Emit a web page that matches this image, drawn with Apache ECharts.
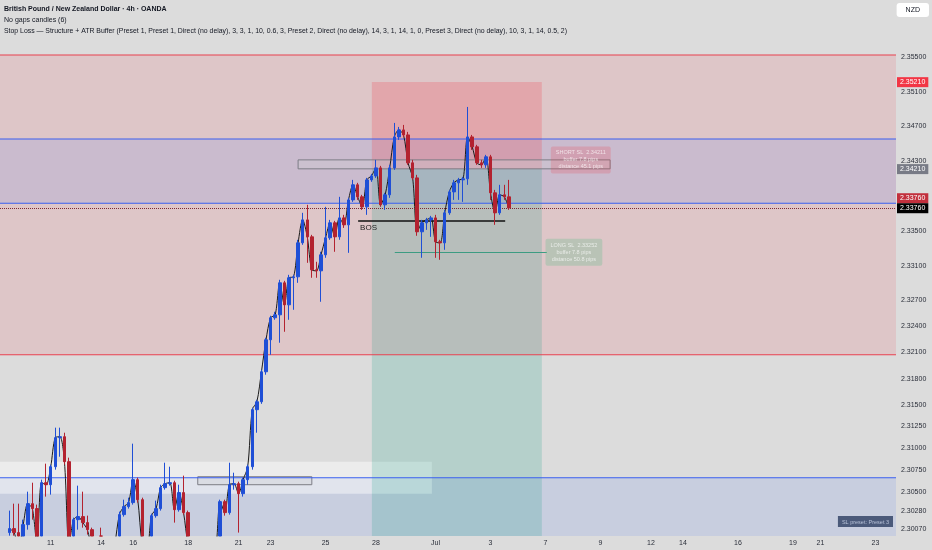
<!DOCTYPE html>
<html><head><meta charset="utf-8">
<script src="https://cdn.jsdelivr.net/npm/echarts@6/dist/echarts.min.js"></script>
<style>html,body{margin:0;padding:0;background:#dcdcdc}#c{width:932px;height:550px}</style>
</head><body><div id="c"></div>
<script>
// ---------- DATA ----------
const opens = [2.30029,2.30075,2.30029,2.29856,2.30121,2.30362,2.30305,2.29891,2.30603,2.30580,
2.30787,2.31121,2.31132,2.30845,2.29891,2.30178,2.30213,2.30144,2.30063,2.29833,
2.29718,2.29776,2.29661,2.29603,2.29891,2.30236,2.30328,2.30374,2.30638,2.30408,
2.29891,2.29833,2.30224,2.30305,2.30546,2.30592,2.30603,2.30293,2.30489,2.30259,
2.29891,2.29776,2.29718,2.29810,2.29695,2.29764,2.29833,2.30385,2.30259,2.30580,
2.30592,2.30477,2.30638,2.30787,2.31443,2.31534,2.31879,2.32247,2.32500,2.32534,
2.32902,2.32649,2.32960,2.32971,2.33362,2.33626,2.33431,2.33052,2.33040,2.33224,
2.33420,2.33592,2.33431,2.33649,2.33569,2.33856,2.34029,2.33891,2.33776,2.34086,
2.34132,2.34224,2.33799,2.33914,2.34224,2.34580,2.34661,2.34603,2.34282,2.34109,
2.33489,2.33592,2.33626,2.33649,2.33374,2.33362,2.33707,2.33948,2.34052,2.34086,
2.34098,2.34580,2.34466,2.34282,2.34259,2.34351,2.33937,2.33707,2.33914,2.33891];
const closes = [2.30075,2.30029,2.29856,2.30121,2.30362,2.30305,2.29891,2.30603,2.30580,2.30787,
2.31121,2.31132,2.30845,2.29891,2.30178,2.30213,2.30144,2.30063,2.29833,2.29718,
2.29776,2.29661,2.29603,2.29891,2.30236,2.30328,2.30374,2.30638,2.30408,2.29891,
2.29833,2.30224,2.30305,2.30546,2.30592,2.30603,2.30293,2.30489,2.30259,2.29891,
2.29776,2.29718,2.29810,2.29695,2.29764,2.29833,2.30385,2.30259,2.30580,2.30592,
2.30477,2.30638,2.30787,2.31443,2.31534,2.31879,2.32247,2.32500,2.32534,2.32902,
2.32649,2.32960,2.32971,2.33362,2.33626,2.33431,2.33052,2.33040,2.33224,2.33420,
2.33592,2.33431,2.33649,2.33569,2.33856,2.34029,2.33891,2.33776,2.34086,2.34132,
2.34224,2.33799,2.33914,2.34224,2.34580,2.34661,2.34603,2.34282,2.34109,2.33489,
2.33592,2.33626,2.33649,2.33374,2.33362,2.33707,2.33948,2.34052,2.34086,2.34098,
2.34580,2.34466,2.34282,2.34259,2.34351,2.33937,2.33707,2.33914,2.33891,2.33764];
const lows = [2.29994,2.29994,2.29810,2.29833,2.30063,2.30178,2.29833,2.29856,2.30443,2.30466,
2.30753,2.30902,2.30810,2.29833,2.29856,2.30063,2.30086,2.30006,2.29776,2.29661,
2.29661,2.29603,2.29488,2.29546,2.29856,2.30213,2.30305,2.30351,2.30374,2.29833,
2.29718,2.29810,2.30201,2.30282,2.30523,2.30569,2.30144,2.30270,2.30236,2.29833,
2.29661,2.29603,2.29661,2.29603,2.29626,2.29718,2.29776,2.30224,2.30236,2.30523,
2.30029,2.30443,2.30580,2.30753,2.31178,2.31510,2.31845,2.32075,2.32477,2.32213,
2.32339,2.32477,2.32592,2.32902,2.33339,2.33132,2.32960,2.32960,2.32684,2.33190,
2.33397,2.33259,2.33397,2.33534,2.33247,2.33833,2.33856,2.33741,2.33684,2.34063,
2.34109,2.33776,2.33741,2.33879,2.34201,2.34546,2.34580,2.34259,2.34086,2.33443,
2.33190,2.33511,2.33431,2.33190,2.33167,2.33282,2.33684,2.33856,2.33856,2.33833,
2.34029,2.34431,2.34259,2.34224,2.34224,2.33856,2.33569,2.33684,2.33856,2.33741];
const highs = [2.30282,2.30362,2.30362,2.30178,2.30500,2.30603,2.30351,2.30638,2.30822,2.30810,
2.31236,2.31236,2.31178,2.30891,2.30201,2.30569,2.30500,2.30224,2.30086,2.29891,
2.30086,2.29833,2.29776,2.29948,2.30270,2.30408,2.30431,2.31052,2.30661,2.30431,
2.29948,2.30247,2.30397,2.30580,2.30833,2.30787,2.30626,2.30580,2.30684,2.30282,
2.29925,2.29856,2.29948,2.29891,2.29983,2.29948,2.30408,2.30408,2.30833,2.30718,
2.30615,2.30661,2.30810,2.31466,2.31557,2.31902,2.32270,2.32523,2.32569,2.32937,
2.32925,2.32994,2.32994,2.33397,2.33707,2.33799,2.33454,2.33144,2.33259,2.33776,
2.33626,2.33615,2.33891,2.33684,2.33879,2.34086,2.34052,2.33914,2.34109,2.34155,
2.34316,2.34247,2.33937,2.34259,2.34741,2.34695,2.34718,2.34638,2.34316,2.34144,
2.33626,2.33649,2.33672,2.33684,2.33397,2.33741,2.33971,2.34086,2.34109,2.34121,
2.34925,2.34603,2.34489,2.34316,2.34374,2.34374,2.33971,2.34029,2.34029,2.34086];

const tickLabels = ['11','14','16','18','21','23','25','28','Jul','3','7','9','12','14','16','19','21','23'];
const tickSlots  = [11,22,29,41,52,59,71,82,95,107,119,131,142,149,161,173,179,191];
const priceTicks = [2.355,2.351,2.347,2.343,2.335,2.331,2.327,2.324,2.321,2.318,2.315,2.3125,2.31,2.3075,2.305,2.3028,2.3007];
const tagValues  = [2.3521, 2.3421, 2.3376, 2.3376];
const tagTexts   = ['2.35210','2.34210','2.33760','2.33760'];

// drawing-tool levels (price) and spans (bar-slot units)
const redZone   = [2.35523, 2.32075];
const blueBand  = [2.34557, 2.33816];
const lowerZoneTop = 2.30661;
const whiteBox  = [0, 94.7, 2.30845, 2.30477];
const grayRects = [[65.5, 133.6, 2.34316, 2.34213], [43.6, 68.5, 2.30672, 2.30580]];
const posTool   = [81.6, 118.7, 2.35213, 2.34210];
const bosLine   = [78.6, 110.7, 2.33615];
const longSL    = [86.6, 119.8, 2.33252];
const lastPrice = 2.3376;
const slLabels  = [
  [127.2, 2.34316, 'SHORT SL  2.34211\nbuffer 7.8 pips\ndistance 45.1 pips'],
  [125.7, 2.33253, 'LONG SL  2.33252\nbuffer 7.8 pips\ndistance 50.8 pips']
];

// ---------- BUILD ----------
const SLOTS = 196, FIRST = 2;
const YMIN = 2.2999, YMAX = 2.36155;
const PX = (YMAX - YMIN) / 536;           // price span of one screen pixel (for 1px edge lines)
const FONT = 'Liberation Sans, Arial, sans-serif';
const cats = Array.from({length: SLOTS}, (_, i) => { const j = tickSlots.indexOf(i); return j >= 0 ? tickLabels[j] : ''; });
const candleData = Array(SLOTS).fill('-');
const closeLine = Array(SLOTS).fill('-');
const vis = v => Math.max(v, YMIN);   // keep marks inside the plotting window (visual clip)
for (let k = 0; k < opens.length; k++) {
  closeLine[k + FIRST] = closes[k];
  if (highs[k] <= YMIN) continue;
  candleData[k + FIRST] = [vis(opens[k]), vis(closes[k]), vis(lows[k]), highs[k]];
}

const overlay = (z, extra) => Object.assign({
  type: 'line', xAxisIndex: 1, yAxisIndex: 0, data: [[0, 2.2]], symbol: 'none',
  lineStyle: {opacity: 0}, silent: true, z: z, animation: false, clip: false
}, extra);
const zone = (top, bottom, fill) => [{coord: [0, top], itemStyle: {color: fill, borderWidth: 0}}, {coord: [SLOTS, bottom]}];
const edge = (v, color) => [{coord: [0, v + PX / 2], itemStyle: {color: color, borderWidth: 0}}, {coord: [SLOTS, v - PX / 2]}];

const option = {
  backgroundColor: '#dcdcdc',
  animation: false,
  title: [
    {text: 'British Pound / New Zealand Dollar · 4h · OANDA', left: 4, top: 4, padding: 0,
     textStyle: {fontSize: 7, lineHeight: 10, fontWeight: 'bold', color: '#131722', fontFamily: FONT}},
    {text: 'No gaps candles (6)', left: 4, top: 15, padding: 0,
     textStyle: {fontSize: 7, lineHeight: 10, fontWeight: 'normal', color: '#131722', fontFamily: FONT}},
    {text: 'Stop Loss — Structure + ATR Buffer (Preset 1, Preset 1, Direct (no delay), 3, 3, 1, 10, 0.6, 3, Preset 2, Direct (no delay), 14, 3, 1, 14, 1, 0, Preset 3, Direct (no delay), 10, 3, 1, 14, 0.5, 2)',
     left: 4, top: 26, padding: 0,
     textStyle: {fontSize: 6.9, lineHeight: 10, fontWeight: 'normal', color: '#131722', fontFamily: FONT}},
    {text: 'NZD', right: 3, top: 3, padding: [4, 9, 3, 9], backgroundColor: '#ffffff', borderRadius: 3,
     textStyle: {fontSize: 7, lineHeight: 7, fontWeight: 'normal', color: '#131722', fontFamily: FONT}},
    {text: 'SL preset: Preset 3', right: 39, bottom: 23, padding: [3, 4, 2, 4], backgroundColor: '#4b5a7a',
     textStyle: {fontSize: 5.5, lineHeight: 6, fontWeight: 'normal', color: '#b8c2d8', fontFamily: FONT}}
  ],
  grid: {left: -2, right: 36, top: 0, bottom: 14, containLabel: false, outerBoundsMode: 'none'},
  xAxis: [
    {type: 'category', data: cats, boundaryGap: true,
     axisLine: {show: false}, axisTick: {show: false}, splitLine: {show: false},
     axisLabel: {interval: 0, fontSize: 7, color: '#2a2e39', margin: 4, fontFamily: FONT}},
    {type: 'value', min: 0, max: SLOTS, show: false}
  ],
  yAxis: [{
    type: 'value', position: 'right', min: YMIN, max: YMAX, scale: true,
    axisLine: {show: false}, axisTick: {show: false}, splitLine: {show: false},
    axisLabel: {customValues: priceTicks, formatter: v => v.toFixed(5), fontSize: 7, color: '#2a2e39', margin: 5, fontFamily: FONT}
  }],
  series: [
    // full-width zones
    overlay(1, {clip: true, markArea: {silent: true, data: [
      zone(redZone[0], redZone[1], 'rgba(242,54,69,0.13)'),
      zone(blueBand[0], blueBand[1], 'rgba(41,98,255,0.11)'),
      zone(lowerZoneTop, YMIN, 'rgba(41,98,255,0.11)')
    ]}}),
    overlay(2, {clip: true, markArea: {silent: true, data: [
      [{coord: [whiteBox[0], whiteBox[2]], itemStyle: {color: 'rgba(255,255,255,0.45)'}}, {coord: [whiteBox[1], whiteBox[3]]}],
      [{coord: [posTool[0], posTool[2]], itemStyle: {color: 'rgba(242,54,69,0.22)'}}, {coord: [posTool[1], posTool[3]]}],
      [{coord: [posTool[0], posTool[3]], itemStyle: {color: 'rgba(8,153,129,0.18)'}}, {coord: [posTool[1], YMIN]}]
    ]}}),
    overlay(3, {clip: true, markArea: {silent: true, data: grayRects.map(r => [
      {coord: [r[0], r[2]], itemStyle: {color: 'rgba(205,205,210,0.35)', borderColor: '#7d7d85', borderWidth: 1}},
      {coord: [r[1], r[3]]}
    ])}}),
    // zone edge lines (1px strips)
    overlay(3, {clip: true, markArea: {silent: true, data: [
      edge(redZone[0], '#e8404f'), edge(redZone[1], '#e8404f'),
      edge(blueBand[0], '#3a5ff0'), edge(blueBand[1], '#3a5ff0'),
      edge(lowerZoneTop, '#3a5ff0')
    ]}}),
    // price line, BOS and long-SL lines
    overlay(3, {clip: true, markLine: {silent: true, precision: 6, symbol: ['none', 'none'], label: {show: false}, data: [
      [{coord: [0, lastPrice], lineStyle: {color: '#7a2a35', width: 1, type: 'dotted', opacity: 1}}, {coord: [SLOTS, lastPrice]}],
      [{coord: [bosLine[0], bosLine[2]], lineStyle: {color: '#111', width: 1.5, type: 'solid', opacity: 1},
        label: {show: true, position: 'insideStartBottom', formatter: 'BOS', fontSize: 8, color: '#222', distance: [2, 3], fontFamily: FONT}},
       {coord: [bosLine[1], bosLine[2]]}],
      [{coord: [longSL[0], longSL[2]], lineStyle: {color: '#3c9c82', width: 1, type: 'solid', opacity: 1}}, {coord: [longSL[1], longSL[2]]}]
    ]}}),
    // close line
    {type: 'line', data: closeLine, symbol: 'none', smooth: 0.3, connectNulls: false,
     lineStyle: {color: '#1a1a1a', width: 1}, z: 4, silent: true, clip: true},
    // candles
    {type: 'candlestick', data: candleData, barWidth: 3, z: 5, clip: true, silent: true,
     itemStyle: {color: '#1f4fd6', color0: '#b3222f', borderColor: '#1f4fd6', borderColor0: '#b3222f', borderWidth: 1}},
    // SL labels
    {type: 'scatter', xAxisIndex: 1, yAxisIndex: 0, symbolSize: 0, z: 7, silent: true,
     data: slLabels.map((d, i) => ({value: [d[0], d[1]], label: {
       show: true, position: 'inside', formatter: d[2], align: 'center',
       backgroundColor: i === 0 ? 'rgba(242,54,69,0.25)' : 'rgba(120,190,150,0.45)',
       padding: [3, 5], borderRadius: 2, fontSize: 5.5, lineHeight: 7,
       color: 'rgba(255,255,255,0.85)', fontFamily: FONT}}))},
    // price tags on the axis
    {type: 'line', xAxisIndex: 1, yAxisIndex: 0, data: [[0, 2.2]], symbol: 'none', silent: true,
     lineStyle: {width: 0}, z: 8, clip: false,
     markLine: {silent: true, precision: 6, symbol: ['none', 'none'],
      lineStyle: {color: 'rgba(0,0,0,0)', width: 0, opacity: 1},
      data: tagValues.map((v, i) => ({yAxis: v, label: {
        show: true, position: 'end', distance: 1, formatter: tagTexts[i],
        offset: i === 2 ? [0, -10] : [0, 0], opacity: 1,
        backgroundColor: ['#f23645', '#787b86', '#c2303d', '#000000'][i],
        color: '#ffffff', padding: [2, 3, 1, 3], fontSize: 7, fontFamily: FONT}}))}}
  ]
};
const chart = echarts.init(document.getElementById('c'), null, {renderer: 'canvas'});
chart.setOption(option);
</script>
</body></html>
